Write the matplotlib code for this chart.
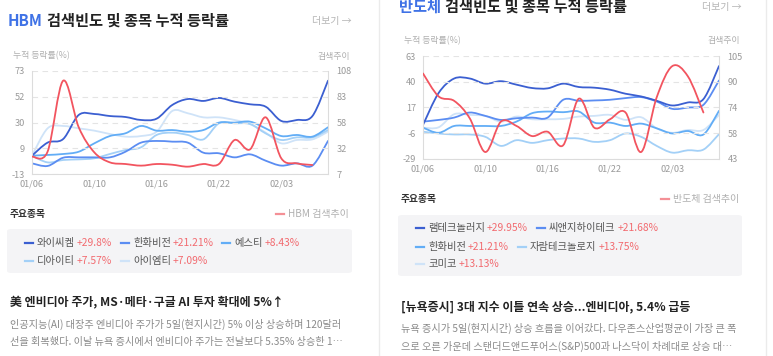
import numpy as np
import matplotlib
matplotlib.use("Agg")
import matplotlib.pyplot as plt
from matplotlib.path import Path
from matplotlib.patches import PathPatch, FancyBboxPatch
from matplotlib.lines import Line2D

plt.rcParams['font.family'] = ['Noto Sans CJK KR', 'DejaVu Sans']

# ---- data ----
dates = ['01/06', '01/07', '01/08', '01/09', '01/10', '01/13', '01/14', '01/15', '01/16', '01/17',
         '01/20', '01/21', '01/22', '01/23', '01/24', '01/31', '02/03', '02/04', '02/05', '02/06']
date_ticks = ['01/06', '01/10', '01/16', '01/22', '02/03']

# HBM
hbm_names = ['와이씨켐', '한화비전', '예스티', '디아이티', '아이엠티']
hbm_returns = ['+29.8%', '+21.21%', '+8.43%', '+7.57%', '+7.09%']
ycchem = [2.3, 13.2, 16.2, 36.3, 37.1, 35.4, 34.6, 32.1, 33.2, 44.6, 49.6, 48.0, 50.5, 47.4, 45.2, 43.2, 31.3, 32.1, 35.4, 64.9]
hanwha_hbm = [-4.1, -6.3, 0.6, 0.9, 0.9, 0.9, 5.6, 13.2, 14.6, 14.0, 13.2, 4.8, 4.3, 0.9, 3.4, -1.9, -6.0, -4.1, -6.0, 14.6]
yestee = [2.3, 2.9, 3.7, 5.6, 12.6, 18.7, 21.0, 27.1, 23.2, 23.7, 22.3, 23.7, 29.9, 29.9, 30.7, 25.1, 18.7, 19.6, 18.2, 26.0]
dit = [2.3, -3.3, -1.3, -0.8, 0.1, 3.7, 7.0, 9.3, 19.6, 21.5, 19.6, 15.9, 29.3, 29.3, 28.7, 20.9, 15.4, 17.6, 17.6, 23.7]
imt = [2.3, 25.1, 27.1, 25.1, 23.2, 20.4, 18.2, 18.7, 22.3, 39.6, 37.7, 34.3, 34.3, 32.1, 28.7, 21.5, 12.6, 15.4, 15.9, 22.3]
hbm_search = [24.0, 28.9, 98.5, 52.8, 28.2, 18.4, 16.8, 15.2, 16.8, 16.1, 14.2, 16.8, 16.8, 40.3, 31.2, 62.6, 22.4, 17.4, 15.8, np.nan]
hbm_left_ticks = ['-13', '9', '30', '52', '73']
hbm_right_ticks = ['7', '32', '58', '83', '108']

# 반도체
semi_names = ['램테크놀러지', '씨앤지하이테크', '한화비전', '자람테크놀로지', '코미코']
semi_returns = ['+29.95%', '+21.68%', '+21.21%', '+13.75%', '+13.13%']
ramtech = [1.4, 29.9, 42.9, 42.9, 38.3, 40.5, 37.4, 34.4, 34.1, 38.3, 35.3, 34.7, 32.9, 29.3, 26.9, 23.0, 18.8, 21.5, 24.5, 54.0]
cng = [4.4, 5.9, 8.0, 12.5, 9.5, 5.9, 7.4, 8.0, 8.0, 23.9, 23.0, 23.3, 23.9, 25.4, 26.3, 22.4, 15.8, 17.0, 19.4, 41.1]
hanwha_semi = [-1.0, -5.6, 0.5, 0.5, 0.5, 0.5, 4.4, 11.9, 13.4, 12.8, 13.4, 3.5, 3.5, 0.5, 2.6, -1.6, -6.2, -4.0, -7.1, 14.0]
jaram = [-4.6, -6.2, -7.1, -7.1, -9.2, -17.3, -12.2, -14.6, -12.2, -10.7, -10.7, -13.7, -12.2, -6.2, -9.2, -17.3, -23.3, -21.2, -20.6, -6.8]
komico = [-1.0, -0.7, 11.0, 10.4, 9.5, 4.4, 8.9, 6.5, 6.5, 6.8, 8.9, 9.5, 10.4, 5.9, 8.3, -1.6, -5.6, -3.1, -3.1, 10.4]
semi_search = [94.5, 80.7, 78.0, 67.5, 47.2, 65.5, 62.9, 56.8, 59.4, 51.3, 79.3, 61.8, 66.9, 71.0, 47.2, 80.1, 98.9, 92.8, 71.0, np.nan]
semi_left_ticks = ['-29', '-6', '17', '40', '63']
semi_right_ticks = ['43', '58', '74', '90', '105']

blues = ['#3b5fd1', '#5b8df2', '#62adf6', '#a3d0f7', '#cfe3f8']
red = '#f2545f'
W, H = 773, 356

fig = plt.figure(figsize=(W / 100, H / 100), dpi=100)
fig.patch.set_facecolor('white')
rend = fig.canvas.get_renderer()


def put(x, y, s, **kw):
    kw.setdefault('va', 'center')
    return fig.text(x / W, 1 - y / H, s, **kw)


def width(t):
    return t.get_window_extent(renderer=rend).width


def hline(x0, x1, y, color, lw=1.6):
    fig.add_artist(Line2D([x0 / W, x1 / W], [1 - y / H] * 2, color=color, lw=lw,
                          transform=fig.transFigure))


def smooth(ax, vals, color, lw=1.3):
    # draw a line through the points as cubic bezier segments
    y = np.asarray(vals, dtype=float)
    x = np.arange(len(y), dtype=float)
    ok = ~np.isnan(y)
    x, y = x[ok], y[ok]
    p = np.column_stack([x, y])
    pp = np.vstack([p[0], p, p[-1]])
    verts = [p[0]]
    codes = [Path.MOVETO]
    for i in range(len(p) - 1):
        c1 = pp[i + 1] + (pp[i + 2] - pp[i]) / 6
        c2 = pp[i + 2] - (pp[i + 3] - pp[i + 1]) / 6
        verts += [c1, c2, pp[i + 2]]
        codes += [Path.CURVE4] * 3
    ax.add_patch(PathPatch(Path(verts, codes), fill=False, edgecolor=color, lw=lw,
                           capstyle='round', joinstyle='round'))


def chart(box, series, search, lticks, rticks):
    l, t, r, b = box
    ax = fig.add_axes([l / W, 1 - b / H, (r - l) / W, (b - t) / H])
    ax2 = ax.twinx()
    lo, hi = float(lticks[0]), float(lticks[-1])
    rlo, rhi = float(rticks[0]), float(rticks[-1])
    for vals, c in reversed(list(zip(series, blues))):
        smooth(ax, vals, c)
    smooth(ax2, search, red)
    ax.set_xlim(0, len(dates) - 1)
    ax.set_ylim(lo, hi)
    ax2.set_ylim(rlo, rhi)
    ax.set_yticks(np.linspace(lo, hi, 5), lticks)
    ax2.set_yticks(np.linspace(rlo, rhi, 5), rticks)
    ax.set_xticks([dates.index(d) for d in date_ticks], date_ticks)
    ax.grid(axis='y', color='#e4e4e4', lw=0.8, ls=(0, (5, 4)))
    for a in (ax, ax2):
        for s in a.spines.values():
            s.set_visible(False)
    for s in ('left', 'right', 'bottom'):
        ax.spines[s].set_visible(True)
        ax.spines[s].set_color('#dcdcdc')
        ax.spines[s].set_linewidth(0.8)
    ax.tick_params(axis='y', length=0, pad=5, labelsize=6.6, labelcolor='#9a9a9a')
    ax.tick_params(axis='x', length=0, pad=4, labelsize=6.6, labelcolor='#9a9a9a')
    ax2.tick_params(axis='y', length=0, pad=6, labelsize=6.6, labelcolor='#9a9a9a')
    return ax


def panel(x0, x1, dy, word, title_y, series, search, lticks, rticks, names, rets,
          legend_pos, box_rows, news_y, news_title, body):
    # title
    t = put(x0, title_y, word, color='#3f72e6', fontsize=11, fontweight='bold')
    put(x0 + width(t) + 4, title_y, '검색빈도 및 종목 누적 등락률', color='#222222',
        fontsize=11, fontweight='bold')
    put(x1, title_y, '더보기 →', color='#b5b5b5', fontsize=7.2, ha='right')
    put(x0 + 5, 56 + dy, '누적 등락률(%)', color='#b0b0b0', fontsize=6.4)
    put(x1 - 2, 56 + dy, '검색추이', color='#b0b0b0', fontsize=6.4, ha='right')
    chart((x0 + 24, 71 + dy, x0 + 320, 174 + dy), series, search, lticks, rticks)

    # key stocks
    put(x0 + 2, 214 + dy, '주요종목', color='#333333', fontsize=7, fontweight='bold')
    t = put(x1 - 3, 214 + dy, word + ' 검색추이', color='#b0b0b0', fontsize=7.2, ha='right')
    tx = x1 - 3 - width(t)
    hline(tx - 12, tx - 4, 214 + dy, '#f49096')
    top, bot = box_rows
    fig.add_artist(FancyBboxPatch(((x0 - 1) / W, 1 - bot / H), (x1 - x0 + 1) / W, (bot - top) / H,
                                  boxstyle='round,pad=0,rounding_size=0.006',
                                  fc='#f4f4f6', ec='none', transform=fig.transFigure))
    for (lx, ly), name, ret, c in zip(legend_pos, names, rets, blues):
        hline(lx, lx + 8, ly, c)
        t = put(lx + 12, ly, name, color='#555555', fontsize=7.4)
        put(lx + 12 + width(t) + 2, ly, ret, color='#f26a6f', fontsize=7.4)

    # news
    put(x0 + 2, news_y, news_title, color='#222222', fontsize=8.6, fontweight='bold')
    put(x0 + 2, news_y + 21, body[0], color='#8a8a8a', fontsize=7.3)
    put(x0 + 2, news_y + 39, body[1], color='#8a8a8a', fontsize=7.3)


panel(8, 352, 0, 'HBM', 21,
      [ycchem, hanwha_hbm, yestee, dit, imt], hbm_search, hbm_left_ticks, hbm_right_ticks,
      hbm_names, hbm_returns,
      [(25, 243), (121, 243), (222, 243), (25, 261), (121, 261)], (229, 273),
      303, '美 엔비디아 주가, MS·메타·구글 AI 투자 확대에 5%↑',
      ['인공지능(AI) 대장주 엔비디아 주가가 5일(현지시간) 5% 이상 상승하며 120달러',
       '선을 회복했다. 이날 뉴욕 증시에서 엔비디아 주가는 전날보다 5.35% 상승한 1…'])

panel(399, 742, -15, '반도체', 7,
      [ramtech, cng, hanwha_semi, jaram, komico], semi_search, semi_left_ticks, semi_right_ticks,
      semi_names, semi_returns,
      [(416, 228), (537, 228), (416, 247), (518, 247), (416, 264)], (215, 276),
      307, '[뉴욕증시] 3대 지수 이틀 연속 상승...엔비디아, 5.4% 급등',
      ['뉴욕 증시가 5일(현지시간) 상승 흐름을 이어갔다. 다우존스산업평균이 가장 큰 폭',
       '으로 오른 가운데 스탠더드앤드푸어스(S&P)500과 나스닥이 차례대로 상승 대…'])

# panel borders
fig.add_artist(Line2D([379 / W] * 2, [0, 1], color='#ebebeb', lw=1, transform=fig.transFigure))
fig.add_artist(Line2D([766 / W] * 2, [0, 1], color='#ebebeb', lw=1, transform=fig.transFigure))

fig.savefig('out.png', dpi=100)
